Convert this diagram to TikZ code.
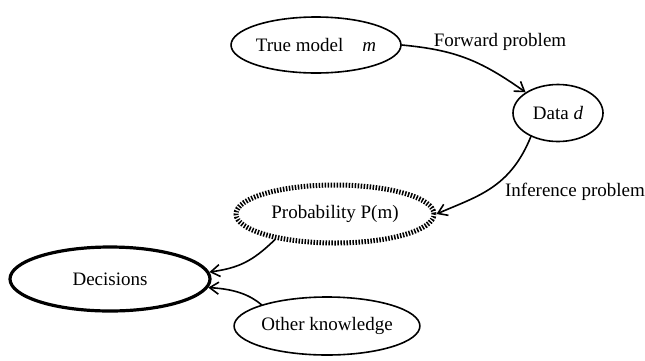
\documentclass[tikz,border=0pt]{standalone}
\usepackage{fontspec}
\setmainfont{Liberation Serif}
\usetikzlibrary{shapes.geometric, arrows.meta}

\begin{document}
\begin{tikzpicture}[x=1pt, y=-1pt, >={Straight Barb[length=9pt, width=12pt]},
                    line width=1.6pt, line cap=round, line join=round,
                    font=\fontsize{19}{22}\selectfont]
  \tikzset{
    blob/.style={ellipse, draw, inner sep=0pt},
    fuzzy/.style={blob, line width=5pt, line cap=butt,
                  dash pattern=on 1.5pt off 1.5pt},
    bold/.style={blob, line width=3.2pt},
    flow/.style={->, line width=1.6pt}
  }
  \useasboundingbox (0,0) rectangle (645,360);

  % ---- Nodes (pixel coordinates of the reference) ----
  \node[blob, minimum width=142pt, minimum height=56pt]
       (truth) at (316,45)  {True model\quad\textit{m}};
  \node[blob, minimum width=90pt,  minimum height=57pt]
       (data)  at (558,113) {Data \textit{d}};
  \node[fuzzy, minimum width=198pt, minimum height=58pt]
       (prob)  at (335,214) {Probability P(m)};
  \node[bold, minimum width=200pt, minimum height=64pt]
       (dec)   at (110,279) {Decisions};
  \node[blob, minimum width=174pt, minimum height=58pt]
       (other) at (327,326) {Other knowledge};

  % ---- Connectors ----
  \draw[flow] (truth.east) .. controls (455,50) and (480,60) .. (data.north west);
  \draw[flow] (data.-139) .. controls (510,188) and (478,196) .. (prob.east);
  \draw[flow] (prob.-157) .. controls (252,262) and (238,268) .. (dec.4);
  \draw[flow] (other.162) .. controls (250,295) and (235,289) .. (dec.-5);

  % ---- Edge labels ----
  \node (fwdlab) at (500,42)  {Forward problem};
  \node (invlab) at (575,192) {Inference problem};
\end{tikzpicture}
\end{document}
